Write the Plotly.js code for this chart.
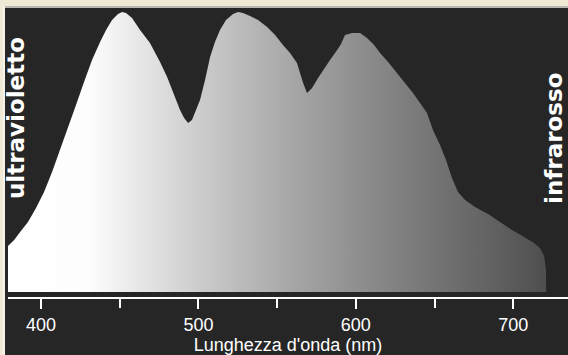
<!DOCTYPE html>
<html>
<head>
<meta charset="utf-8">
<script src="https://cdn.plot.ly/plotly-3.0.1.min.js"></script>
<style>
  html, body { margin: 0; padding: 0; width: 568px; height: 355px; overflow: hidden; background: #efe9d6; }
  #plot { position: absolute; left: 0; top: 0; width: 568px; height: 355px; }
</style>
</head>
<body>
<div id="plot"></div>
<script>
// Wavelength (nm) and relative intensity
const wavelength = [379.0, 382.9, 386.7, 391.7, 396.8, 401.9, 407.0, 412.1, 417.2, 422.2,
  427.3, 432.4, 437.5, 441.3, 445.1, 448.9, 451.5, 454.0, 457.8, 462.9,
  469.2, 475.6, 480.1, 484.5, 488.3, 490.9, 493.4, 495.9, 498.5, 501.0,
  504.2, 507.4, 510.5, 513.7, 517.5, 522.0, 525.2, 528.3, 532.8, 537.9,
  543.6, 548.7, 553.7, 558.2, 562.6, 566.5, 569.0, 572.2, 576.0, 579.2,
  583.6, 588.1, 590.6, 593.1, 597.6, 602.7, 607.1, 611.6, 615.4, 620.5,
  626.2, 631.3, 636.3, 640.8, 645.2, 649.0, 653.5, 657.3, 661.1, 664.9,
  669.4, 675.7, 684.0, 691.6, 699.2, 706.9, 713.2, 717.0, 719.6, 720.8, 720.9];
const intensity = [46, 52, 60, 70, 84, 100, 120, 142, 164, 187,
  210, 232, 250, 262, 272, 278, 280, 279, 274, 262,
  249, 230, 215, 197, 182, 174, 169, 172, 182, 192,
  212, 235, 250, 262, 272, 278, 280, 279, 276, 272,
  265, 257, 247, 239, 229, 209, 199, 204, 214, 222,
  232, 242, 248, 257, 259, 259, 254, 247, 239, 230,
  219, 209, 199, 189, 179, 162, 147, 132, 114, 100,
  92, 85, 78, 70, 62, 55, 49, 44, 36, 22, 0];
const tickVals = [400, 500, 600, 700];
const tickText = ['400', '500', '600', '700'];
const sideLabels = ['ultravioletto', 'infrarosso'];
const axisTitle = "Lunghezza d'onda (nm)";

const trace = {
  x: wavelength,
  y: intensity,
  type: 'scatter',
  mode: 'lines',
  line: { width: 0 },
  fill: 'tozeroy',
  fillgradient: {
    type: 'horizontal',
    start: 379,
    stop: 721,
    colorscale: [
      [0, '#ffffff'],
      [0.15, '#fdfdfd'],
      [0.36, '#cbcbcb'],
      [0.53, '#a6a6a6'],
      [0.76, '#7a7a7a'],
      [0.94, '#5a5a5a'],
      [1, '#4e4e4e']
    ]
  },
  hoverinfo: 'skip',
  showlegend: false
};

const tickFont = { family: 'Liberation Sans Narrow, Arial Narrow, Liberation Sans, Arial, sans-serif', size: 18, color: '#ffffff' };
const dark = '#262626';

const layout = {
  width: 568,
  height: 355,
  margin: { l: 8, r: 0, t: 8, b: 58 },
  paper_bgcolor: '#efe9d6',
  plot_bgcolor: 'rgba(0,0,0,0)',
  showlegend: false,
  xaxis: {
    range: [379, 734.8],
    tickvals: tickVals,
    ticktext: tickText,
    ticks: 'outside',
    ticklen: 10,
    tickwidth: 2,
    tickcolor: '#ffffff',
    minor: { dtick: 50, tick0: 0, ticks: 'outside', ticklen: 9, tickwidth: 2, tickcolor: '#ffffff', showgrid: false },
    showline: true,
    linecolor: '#ffffff',
    linewidth: 2,
    showgrid: false,
    zeroline: false,
    tickfont: tickFont,
    title: { text: axisTitle, font: tickFont, standoff: 4 }
  },
  yaxis: {
    range: [-5, 284],
    visible: false,
    showgrid: false,
    zeroline: false
  },
  shapes: [
    { type: 'rect', xref: 'paper', yref: 'paper', x0: -0.00536, x1: 1, y0: -0.2007, y1: 1,
      fillcolor: dark, line: { width: 0 }, layer: 'below' },
    { type: 'rect', xref: 'paper', yref: 'paper', x0: -0.00893, x1: 1, y0: 1, y1: 1.0069,
      fillcolor: '#b9b7b0', line: { width: 0 }, layer: 'below' },
    { type: 'rect', xref: 'paper', yref: 'paper', x0: -0.00893, x1: -0.00536, y0: -0.2007, y1: 1.0069,
      fillcolor: '#f6f3ea', line: { width: 0 }, layer: 'below' }
  ],
  annotations: [
    { text: sideLabels[0], xref: 'paper', yref: 'paper', x: 0.0143, y: 0.619, textangle: -90,
      showarrow: false, xanchor: 'center', yanchor: 'middle', borderpad: 0,
      font: { family: 'DejaVu Sans, sans-serif', size: 23, color: '#ffffff', weight: 'bold' } },
    { text: sideLabels[1], xref: 'paper', yref: 'paper', x: 0.975, y: 0.547, textangle: -90,
      showarrow: false, xanchor: 'center', yanchor: 'middle', borderpad: 0,
      font: { family: 'DejaVu Sans, sans-serif', size: 23, color: '#ffffff', weight: 'bold' } }
  ]
};

Plotly.newPlot('plot', [trace], layout, { displayModeBar: false, staticPlot: true });
</script>
</body>
</html>
